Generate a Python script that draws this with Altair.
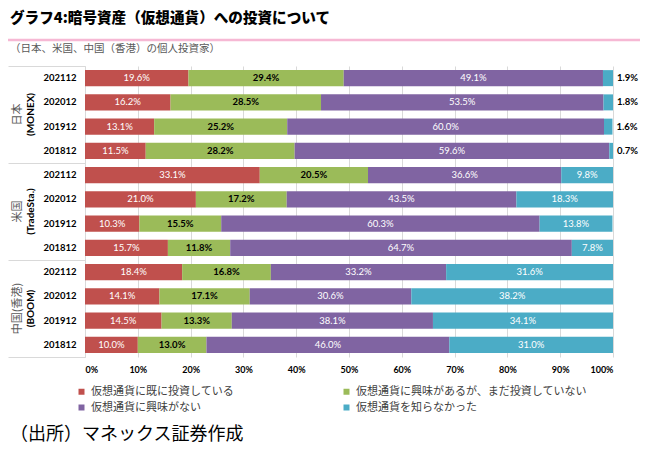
import altair as alt
import pandas as pd

# ---- data ----
groups = ["日本", "米国", "中国(香港)"]
group_sources = ["(MONEX)", "(TradeSta.)", "(BOOM)"]
years = ["202112", "202012", "201912", "201812"]
categories = [
    "仮想通貨に既に投資している",
    "仮想通貨に興味があるが、まだ投資していない",
    "仮想通貨に興味がない",
    "仮想通貨を知らなかった",
]
colors = ["#C0504D", "#9BBB59", "#8064A2", "#4BACC6"]

invested = [19.6, 16.2, 13.1, 11.5, 33.1, 21.0, 10.3, 15.7, 18.4, 14.1, 14.5, 10.0]
interested = [29.4, 28.5, 25.2, 28.2, 20.5, 17.2, 15.5, 11.8, 16.8, 17.1, 13.3, 13.0]
not_interested = [49.1, 53.5, 60.0, 59.6, 36.6, 43.5, 60.3, 64.7, 33.2, 30.6, 38.1, 46.0]
unaware = [1.9, 1.8, 1.6, 0.7, 9.8, 18.3, 13.8, 7.8, 31.6, 38.2, 34.1, 31.0]

x_ticks = [0, 10, 20, 30, 40, 50, 60, 70, 80, 90, 100]

title_text = "グラフ4:暗号資産（仮想通貨）への投資について"
subtitle_text = "（日本、米国、中国（香港）の個人投資家）"
source_text = "（出所）マネックス証券作成"

# ---- table ----
series = [invested, interested, not_interested, unaware]
rows, row_keys = [], []
for gi, g in enumerate(groups):
    for yi, yr in enumerate(years):
        idx = gi * 4 + yi
        key = f"{g}|{yr}"
        row_keys.append(key)
        start = 0.0
        for ci, cat in enumerate(categories):
            v = series[ci][idx]
            if ci == 1:
                style = "dark"
            elif ci == 3 and gi == 0:
                style = "outside"
            else:
                style = "light"
            rows.append(dict(row=key, group=g, year=yr, cat=cat, value=v,
                             start=start, end=start + v, mid=start + v / 2,
                             label=f"{v:.1f}%", style=style))
            start += v
df = pd.DataFrame(rows)

NUM_FONT = "Lato"
JP_FONT = "Noto Sans CJK JP"

x_scale = alt.Scale(domain=[0, 100], nice=False, clamp=True)
x_axis = alt.Axis(values=x_ticks, labelExpr="datum.value + '%'", title=None,
                  domain=False, ticks=False, grid=True, gridColor="#d9d9d9",
                  labelFont=NUM_FONT, labelFontWeight="bold", labelFontSize=9,
                  labelColor="#000000", labelPadding=8)
y_enc = alt.Y("row:N", sort=row_keys,
              scale=alt.Scale(type="band", paddingInner=0.34, paddingOuter=0.17),
              axis=alt.Axis(title=None, labelExpr="split(datum.label, '|')[1]",
                            ticks=False, domain=True, domainColor="#d9d9d9",
                            labelFont=NUM_FONT, labelFontWeight="bold",
                            labelFontSize=9.5, labelColor="#000000",
                            labelPadding=9, grid=False))

base = alt.Chart(df)
bars = base.mark_bar().encode(
    x=alt.X("start:Q", scale=x_scale, axis=x_axis),
    x2="end:Q",
    y=y_enc,
    color=alt.Color("cat:N", scale=alt.Scale(domain=categories, range=colors),
                    legend=alt.Legend(orient="none", legendX=-9, legendY=320,
                                      direction="horizontal",
                                      columns=2, columnPadding=107, rowPadding=4,
                                      symbolType="square", symbolSize=36,
                                      symbolStrokeWidth=0, labelFont=JP_FONT,
                                      labelFontSize=11, labelColor="#404040",
                                      labelLimit=400, title=None)),
)
txt_light = base.transform_filter("datum.style == 'light'").mark_text(
    font=NUM_FONT, fontSize=9.5, color="#ffffff", baseline="middle").encode(
    x=alt.X("mid:Q", scale=x_scale, axis=x_axis), y=y_enc, text="label:N")
txt_dark = base.transform_filter("datum.style == 'dark'").mark_text(
    font=NUM_FONT, fontSize=9.5, fontWeight="bold", color="#000000",
    baseline="middle").encode(
    x=alt.X("mid:Q", scale=x_scale, axis=x_axis), y=y_enc, text="label:N")
txt_out = base.transform_filter("datum.style == 'outside'").mark_text(
    font=NUM_FONT, fontSize=9.5, fontWeight="bold", color="#000000",
    align="left", baseline="middle", dx=4).encode(
    x=alt.X("end:Q", scale=x_scale, axis=x_axis), y=y_enc, text="label:N")

row_layer = alt.layer(bars, txt_light, txt_dark, txt_out)

gdf = pd.DataFrame({"group": groups, "src": group_sources})
gy = alt.Y("group:N", sort=groups,
           scale=alt.Scale(type="band", paddingInner=0, paddingOuter=0),
           axis=alt.Axis(orient="left", title=None, labels=False, domain=False,
                         grid=False, ticks=True, tickSize=77, tickBand="extent",
                         tickColor="#d9d9d9", tickWidth=1))
g1 = alt.Chart(gdf).mark_text(angle=270, font=JP_FONT, fontSize=11,
                              color="#595959", baseline="middle").encode(
    y=gy, x=alt.value(-67), text="group:N")
g2 = alt.Chart(gdf).mark_text(angle=270, font=NUM_FONT, fontSize=10,
                              fontWeight="bold", color="#000000",
                              baseline="middle").encode(
    y=gy, x=alt.value(-54), text="src:N")
group_layer = alt.layer(g1, g2)

t_title = alt.Chart(pd.DataFrame({"t": [title_text]})).mark_text(
    align="left", baseline="middle", font=JP_FONT, fontSize=14.6, fontWeight=900,
    color="#000000").encode(text="t:N", x=alt.value(-75), y=alt.value(-47))
t_sub = alt.Chart(pd.DataFrame({"t": [subtitle_text]})).mark_text(
    align="left", baseline="middle", font=JP_FONT, fontSize=10.5,
    color="#595959").encode(text="t:N", x=alt.value(-75), y=alt.value(-17))
t_src = alt.Chart(pd.DataFrame({"t": [source_text]})).mark_text(
    align="left", baseline="middle", font=JP_FONT, fontSize=18,
    color="#000000").encode(text="t:N", x=alt.value(-75), y=alt.value(369))
pink = alt.Chart(pd.DataFrame({"a": [0]})).mark_rule(
    color="#F6B8D4", strokeWidth=2.5).encode(
    x=alt.value(-77), x2=alt.value(570), y=alt.value(-26))

chart = alt.layer(row_layer, group_layer, t_title, t_sub, t_src, pink).resolve_scale(
    y="independent"
).properties(
    width=528, height=291,
    padding={"left": 77, "top": 58, "right": 27, "bottom": 88},
    autosize=alt.AutoSizeParams(type="none"),
    background="#ffffff",
).configure_view(stroke=None)

chart.save("out.html", embed_options={"renderer": "svg", "actions": False})
